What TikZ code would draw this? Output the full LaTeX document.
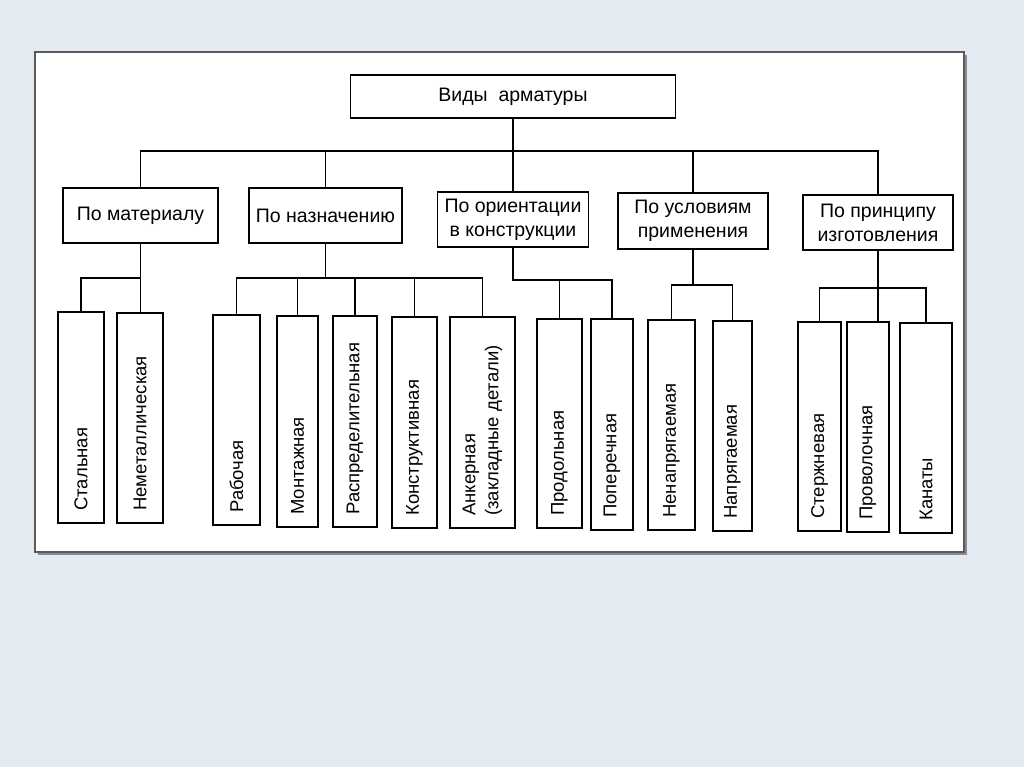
\documentclass[tikz,border=0pt]{standalone}
\usepackage{fontspec}
\setmainfont{Liberation Sans}
\definecolor{bgc}{HTML}{E4EAF2}
\definecolor{frame}{HTML}{5A5A5A}
\newcommand\tallnode[6]{%
  \node[tall, minimum width=#4pt, minimum height=#5pt] (#1) at (#2,#3) {};
  \node[vtext] (#1-t) at ([yshift=13pt]#1.south) {#6};}
\begin{document}
\begin{tikzpicture}[x=1pt,y=-1pt,
  box/.style={draw=black, line width=1.7pt, inner sep=0pt, align=center,
    font=\fontsize{19.5}{24}\selectfont},
  tall/.style={draw=black, line width=1.7pt, inner sep=0pt},
  vtext/.style={rotate=90, anchor=west, inner sep=0pt, align=left,
    font=\fontsize{18.5}{23}\selectfont},
  conn/.style={line width=1.7pt, black}]
\fill[bgc] (0,0) rectangle (1024,767);
\useasboundingbox (0,0) rectangle (1024,767);
% panel
\fill[frame!70] (38,55) rectangle (967,555);
\filldraw[fill=white, draw=frame, line width=1.2pt] (35,52) rectangle (964,552);

% root
\node[box, minimum width=325pt, minimum height=43pt] (root) at (513,96.5) {Виды\ \ арматуры};

% level 2
\node[box, minimum width=155pt, minimum height=55pt] (mat) at (140.5,215.5) {По материалу};
\node[box, minimum width=153pt, minimum height=55pt] (naz) at (325.5,215.5) {По назначению};
\node[box, minimum width=151pt, minimum height=55pt] (ori) at (513,219.5) {По ориентации\\в конструкции};
\node[box, minimum width=150pt, minimum height=56pt] (usl) at (693,221) {По условиям\\применения};
\node[box, minimum width=150pt, minimum height=55pt] (pri) at (878,222.5) {По принципу\\изготовления};

% level 3
\tallnode{st}{81}{417.5}{46}{211}{Стальная}
\tallnode{nem}{140}{418}{46}{210}{Неметаллическая}
\tallnode{rab}{236.5}{420}{47}{210}{Рабочая}
\tallnode{mon}{297.5}{421.5}{41}{211}{Монтажная}
\tallnode{ras}{355}{421.5}{44}{211}{Распределительная}
\tallnode{kon}{414.5}{422.5}{45}{211}{Конструктивная}
\tallnode{ank}{482.5}{422.5}{65}{211}{Анкерная\\(закладные детали)}
\tallnode{prod}{559.5}{423.5}{45}{209}{Продольная}
\tallnode{pop}{612}{424.5}{42}{211}{Поперечная}
\tallnode{nen}{671.5}{425}{47}{210}{Ненапрягаемая}
\tallnode{nap}{732.5}{426}{39}{210}{Напрягаемая}
\tallnode{ster}{819.5}{426.5}{43}{209}{Стержневая}
\tallnode{prov}{868}{427}{42}{210}{Проволочная}
\tallnode{kan}{926}{428}{52}{210}{Канаты}

% bus coordinates
\coordinate (bus) at (0,151);
\coordinate (b1) at (0,278);
\coordinate (b2) at (0,278);
\coordinate (b3) at (0,280);
\coordinate (b4) at (0,285);
\coordinate (b5) at (0,288);

% top connectors
\draw[conn] (root.south) -- (ori.north);
\draw[conn] (mat.north) -- (mat.north |- bus) -- (pri.north |- bus) -- (pri.north);
\draw[conn] (naz.north) -- (naz.north |- bus);
\draw[conn] (usl.north) -- (usl.north |- bus);

% mat children
\draw[conn] (mat.south) -- (mat.south |- nem.north);
\draw[conn] (st.north) |- (b1 -| mat.south);

% naz children
\draw[conn] (naz.south) -- (naz.south |- b2);
\draw[conn] (rab.north) |- (b2 -| ank.north) -- (ank.north);
\draw[conn] (mon.north) -- (mon.north |- b2);
\draw[conn] (ras.north) -- (ras.north |- b2);
\draw[conn] (kon.north) -- (kon.north |- b2);

% ori children
\draw[conn] (ori.south) |- (b3 -| pop.north) -- (pop.north);
\draw[conn] (prod.north) -- (prod.north |- b3);

% usl children
\draw[conn] (usl.south) -- (usl.south |- b4);
\draw[conn] (nen.north) |- (b4 -| nap.north) -- (nap.north);

% pri children
\draw[conn] (pri.south) -- (pri.south |- prov.north);
\draw[conn] (ster.north) |- (b5 -| kan.north) -- (kan.north);
\end{tikzpicture}
\end{document}
